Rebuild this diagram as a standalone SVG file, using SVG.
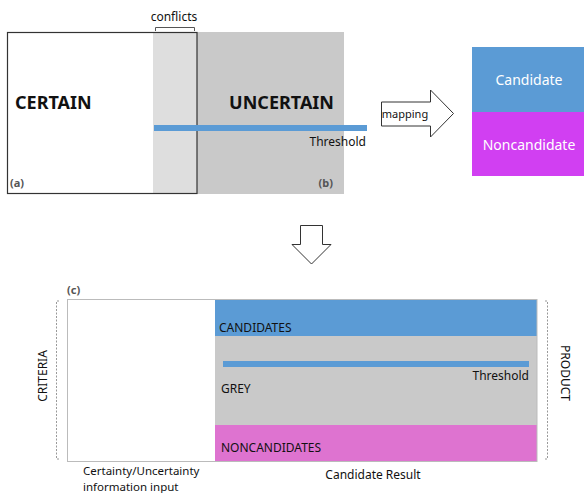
<svg xmlns="http://www.w3.org/2000/svg" width="584" height="493" viewBox="0 0 584 493">
<style>
text{font-family:"Noto Sans","Open Sans","Liberation Sans",sans-serif;fill:#111}
.big{font-size:18px;font-weight:bold}
.sm{font-size:12px}
.lab{font-size:11px;font-weight:bold;fill:#555}
.wt{font-size:14px;fill:#fff}
.ft{font-size:11.5px}
.dash{fill:none;stroke:#999;stroke-width:1;stroke-dasharray:2,1.5}
</style>
<rect width="584" height="493" fill="#fff"/>
<g id="panel-ab">
  <rect x="153" y="32" width="191" height="162" fill="#c9c9c9"/>
  <rect x="153" y="32" width="44" height="162" fill="#dedede"/>
  <rect x="7.5" y="32.5" width="189.5" height="161" fill="none" stroke="#333" stroke-width="1.2"/>
  <path d="M155.5,31 V27.5 H194.5 V31" fill="none" stroke="#555" stroke-width="1"/>
  <text x="174" y="21" class="sm" text-anchor="middle">conflicts</text>
  <text x="15" y="109" class="big">CERTAIN</text>
  <text x="334" y="109" class="big" text-anchor="end">UNCERTAIN</text>
  <rect x="154" y="125" width="213" height="6" fill="#5b9bd5"/>
  <text x="366" y="146" class="sm" text-anchor="end">Threshold</text>
  <text x="10" y="187" class="lab">(a)</text>
  <text x="333" y="187" class="lab" text-anchor="end">(b)</text>
</g>
<g id="connectors">
  <polygon points="381.5,102 430.5,102 430.5,90 453.5,113.5 430.5,137 430.5,126 381.5,126" fill="#fff" stroke="#333" stroke-width="1"/>
  <text x="405" y="117.5" font-size="11" text-anchor="middle">mapping</text>
  <polygon points="300.5,225.5 322.5,225.5 322.5,244.5 331,244.5 311.5,264 292,244.5 300.5,244.5" fill="#fff" stroke="#333" stroke-width="1"/>
</g>
<g id="candidate-box">
  <rect x="472" y="47" width="112" height="65" fill="#5b9bd5"/>
  <rect x="472" y="112" width="112" height="64" fill="#d13ff2"/>
  <text x="529" y="85" class="wt" text-anchor="middle">Candidate</text>
  <text x="529" y="150" class="wt" text-anchor="middle">Noncandidate</text>
</g>
<g id="panel-c">
  <text x="67" y="294" class="lab">(c)</text>
  <rect x="215" y="299" width="322" height="37" fill="#5b9bd5"/>
  <rect x="215" y="336" width="322" height="89" fill="#c9c9c9"/>
  <rect x="215" y="425" width="322" height="37" fill="#de73d0"/>
  <rect x="67.5" y="299.5" width="469.5" height="162" fill="none" stroke="#bbb" stroke-width="1"/>
  <rect x="223" y="361" width="306" height="6" fill="#5b9bd5"/>
  <text x="529" y="380" class="sm" text-anchor="end">Threshold</text>
  <text x="219" y="332" class="sm">CANDIDATES</text>
  <text x="221" y="393" class="sm">GREY</text>
  <text x="221" y="452" class="sm">NONCANDIDATES</text>
  <path d="M59,301 H56.5 V459 H59" class="dash"/>
  <path d="M545,301 H547.5 V459 H545" class="dash"/>
  <text transform="translate(47,376) rotate(-90)" class="sm" text-anchor="middle">CRITERIA</text>
  <text transform="translate(561,373) rotate(90)" class="sm" text-anchor="middle">PRODUCT</text>
  <text x="83" y="475" class="ft">Certainty/Uncertainty</text>
  <text x="83" y="490.5" class="ft">information input</text>
  <text x="373" y="479" class="sm" text-anchor="middle">Candidate Result</text>
</g>
</svg>
